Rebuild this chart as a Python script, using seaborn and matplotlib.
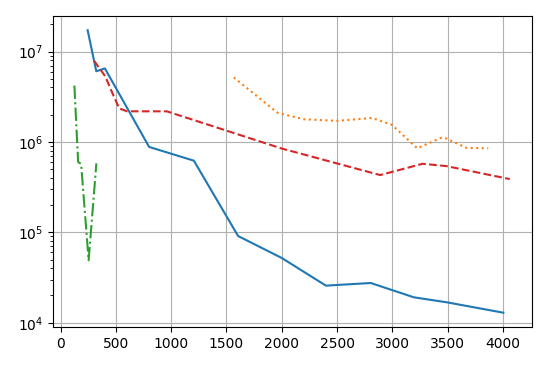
import matplotlib
matplotlib.use("Agg")
import matplotlib.pyplot as plt
import seaborn as sns
import pandas as pd

blue_x = [244, 322, 400, 800, 1205, 1605, 2000, 2400, 2805, 3195, 3495, 4005]
blue_y = [1.72e7, 6.05e6, 6.5e6, 8.8e5, 6.2e5, 9.1e4, 5.2e4, 2.57e4, 2.75e4, 1.91e4, 1.68e4, 1.29e4]

orange_x = [1566, 1962, 2200, 2500, 2815, 2995, 3226, 3440, 3480, 3672, 3867]
orange_y = [5.17e6, 2.1e6, 1.78e6, 1.71e6, 1.84e6, 1.55e6, 8.5e5, 1.11e6, 1.1e6, 8.6e5, 8.5e5]

green_x = [124, 158, 185, 253, 323]
green_y = [4.2e6, 6.0e5, 5.7e5, 4.9e4, 5.8e5]

red_x = [302, 404, 480, 530, 600, 960, 2000, 2890, 3275, 3490, 4063]
red_y = [7.9e6, 5.3e6, 3.2e6, 2.35e6, 2.18e6, 2.18e6, 8.45e5, 4.3e5, 5.73e5, 5.4e5, 3.88e5]

series = [
    (blue_x, blue_y, "#1f77b4", "-"),
    (orange_x, orange_y, "#ff7f0e", ":"),
    (green_x, green_y, "#2ca02c", "-."),
    (red_x, red_y, "#d62728", "--"),
]

fig = plt.figure(figsize=(5.48, 3.66), dpi=100)
ax = fig.add_axes([0.096, 0.107, 0.874, 0.849])

for xs, ys, c, ls in series:
    df = pd.DataFrame({"x": xs, "y": ys})
    sns.lineplot(data=df, x="x", y="y", ax=ax, color=c, linestyle=ls,
                 linewidth=1.5, estimator=None, sort=False)

ax.set_yscale("log")
ax.grid(True, which="major")
ax.set_xlabel("")
ax.set_ylabel("")
ax.set_xticks([0, 500, 1000, 1500, 2000, 2500, 3000, 3500, 4000])

fig.savefig("out.png", dpi=100)
